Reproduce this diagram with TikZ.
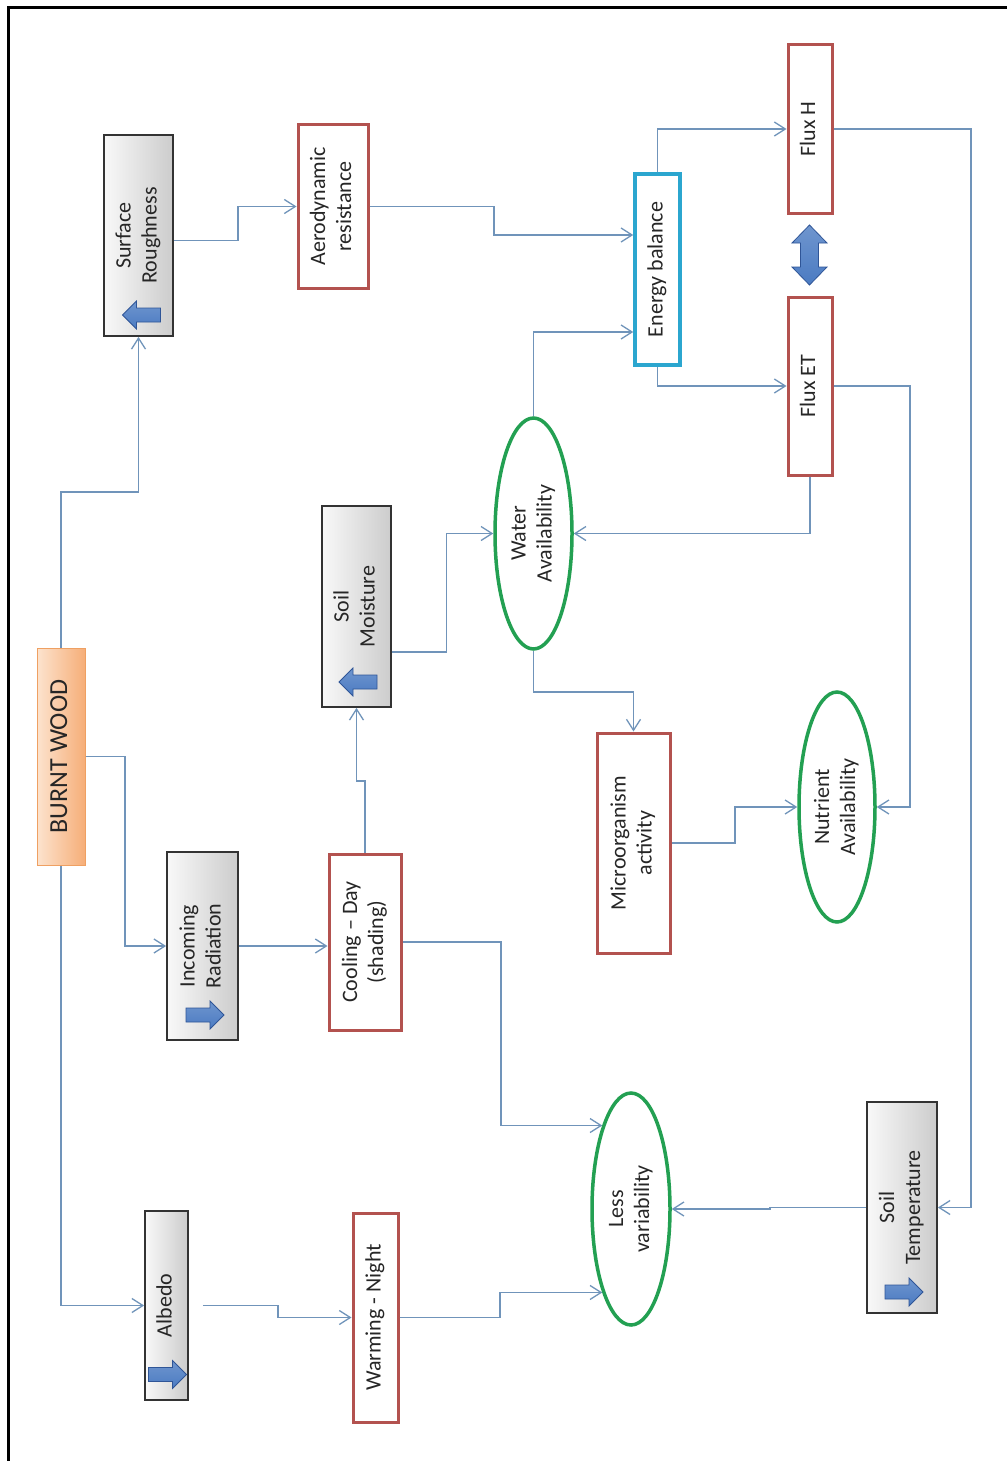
\documentclass[tikz,border=0pt]{standalone}
\usepackage{fontspec}
\setmainfont{Carlito}
\usetikzlibrary{arrows.meta,shapes.geometric}

\definecolor{linec}{HTML}{7094BA}
\definecolor{redc}{HTML}{B3524F}
\definecolor{bluec}{HTML}{2BA6CF}
\definecolor{greenc}{HTML}{23A052}
\definecolor{arrowc}{HTML}{4B7BC2}
\definecolor{arrowd}{HTML}{2F5597}
\definecolor{orangel}{HTML}{FCE3CE}
\definecolor{oranger}{HTML}{F6AE78}
\definecolor{oranged}{HTML}{EFA062}

% text set upright in the box frame, turned a quarter turn
\newcommand\uptext[1]{\rotatebox{90}{\begin{tabular}{@{}c@{}}#1\end{tabular}}}

\tikzset{
  base/.style={inner sep=0pt, font=\fontsize{22}{26}\selectfont, text=black!85},
  graybox/.style={base, rectangle, draw=black!80, line width=1.8pt,
                  left color=gray!5, right color=gray!40},
  orangebox/.style={base, rectangle, draw=oranged, line width=1pt,
                  left color=orangel, right color=oranger,
                  font=\fontsize{26}{30}\selectfont},
  redbox/.style={base, rectangle, draw=redc, line width=3pt, fill=white},
  bluebox/.style={base, rectangle, draw=bluec, line width=3.5pt, fill=white},
  greenell/.style={base, ellipse, draw=greenc, line width=3.5pt, fill=white},
  conn/.style={draw=linec, line width=1.3pt,
               -{Straight Barb[length=11pt,width=14pt]}},
  blockarr/.style={top color=arrowc!80, bottom color=arrowc, draw=arrowd, line width=0.8pt},
}

\begin{document}
\begin{tikzpicture}[x=1pt,y=-1pt]
\fill[white] (0,0) rectangle (1007,1461);
\useasboundingbox (0,0) rectangle (1007,1461);

% frame
\draw[line width=3pt] (8.5,1461) -- (8.5,7.5) -- (1007,7.5);

% ---------- nodes ----------
\node[orangebox, minimum width=48pt, minimum height=217pt] (bw) at (61,756.5) {\uptext{BURNT WOOD}};

\node[graybox, minimum width=69pt, minimum height=201pt] (sr) at (138.5,235.5) {\uptext{Surface\\Roughness}};
\node[graybox, minimum width=71pt, minimum height=188pt] (ir) at (202.5,946) {\uptext{Incoming\\Radiation}};
\node[graybox, minimum width=69pt, minimum height=201pt] (sm) at (356.5,606.5) {\uptext{Soil\\Moisture}};
\node[graybox, minimum width=43pt, minimum height=189pt] (al) at (166.5,1305.5) {\uptext{Albedo}};
\node[graybox, minimum width=70pt, minimum height=211pt] (st) at (902,1207.5) {\uptext{Soil\\Temperature}};

\node[redbox, minimum width=70pt, minimum height=163pt] (ar) at (333,206.5) {\uptext{Aerodynamic\\resistance}};
\node[redbox, minimum width=44pt, minimum height=168pt] (fh) at (810,129) {\uptext{Flux H}};
\node[redbox, minimum width=44pt, minimum height=178pt] (fet) at (810,386) {\uptext{Flux ET}};
\node[redbox, minimum width=72pt, minimum height=176pt] (cd) at (365,942) {\uptext{Cooling -- Day\\(shading)}};
\node[redbox, minimum width=73pt, minimum height=220pt] (ma) at (633.5,843) {\uptext{Microorganism\\activity}};
\node[redbox, minimum width=45pt, minimum height=209pt] (wn) at (375.5,1317.5) {\uptext{Warming - Night}};

\node[bluebox, minimum width=45pt, minimum height=191pt] (eb) at (657.5,269.5) {\uptext{Energy balance}};

\node[greenell, minimum width=77pt, minimum height=231pt] (wa) at (533.5,533.5) {\uptext{Water\\Availability}};
\node[greenell, minimum width=76pt, minimum height=230pt] (na) at (837,807) {\uptext{Nutrient\\Availability}};
\node[greenell, minimum width=78pt, minimum height=232pt] (lv) at (631,1209) {\uptext{Less\\variability}};

% ---------- block arrows inside the grey boxes ----------
% pointing left (increase)
\foreach \cx/\cy in {141.5/315, 358/682}
  \draw[blockarr, shift={(\cx,\cy)}]
    (-19,0) -- (-5,-14) -- (-5,-7) -- (19,-7) -- (19,7) -- (-5,7) -- (-5,14) -- cycle;
% pointing right (decrease)
\foreach \cx/\cy in {205/1015, 167.5/1374.5, 904/1292}
  \draw[blockarr, shift={(\cx,\cy)}]
    (19,0) -- (5,-14) -- (5,-7) -- (-19,-7) -- (-19,7) -- (5,7) -- (5,14) -- cycle;

% double arrow between the two fluxes
\draw[blockarr, shift={(809.5,255)}]
  (0,-30) -- (17.5,-12) -- (9,-12) -- (9,12) -- (17.5,12) -- (0,30)
  -- (-17.5,12) -- (-9,12) -- (-9,-12) -- (-17.5,-12) -- cycle;

% ---------- connectors ----------
\draw[conn] (bw.north) -- (61,492) -| (sr.south);
\draw[conn] (bw.east) -- (125,756.5) |- (ir.west);
\draw[conn] (bw.south) |- (al.west);

\draw[conn] ([yshift=-5pt]sr.east) -- (238,240.5) |- (ar.west);
\draw[conn] (ar.east) -- (494,206.5) |- ([yshift=34.5pt]eb.west);
\draw[conn] (wa.north) |- ([yshift=-62.5pt]eb.west);

\draw[conn] (eb.north) |- (fh.west);
\draw[conn] (eb.south) |- (fet.west);

\draw[conn] (fh.east) -- (971,129) |- (st.east);
\draw[conn] (fet.east) -- (910,386) |- (na.east);
\draw[conn] (fet.south) |- (wa.east);

\draw[conn] ([yshift=-45.5pt]sm.east) -- (446.5,652) |- (wa.west);
\draw[conn] (wa.south) -- (533.5,692) -| (ma.north);
\draw[conn] (ma.east) -- (735,843) |- (na.west);

\draw[conn] (cd.north) -- (365,781) -| (sm.south);
\draw[conn] (ir.east) -- (cd.west |- ir.east);
\draw[conn] (cd.east) -- (501,942) |- (lv.109.4);

\draw[conn] ([xshift=14pt]al.east) -- (278,1305.5) |- (wn.west);
\draw[conn] (wn.east) -- (500,1317.5) |- (lv.251);
\draw[conn] (st.west) -- (770,1207.5) |- (lv.east);

\end{tikzpicture}
\end{document}
